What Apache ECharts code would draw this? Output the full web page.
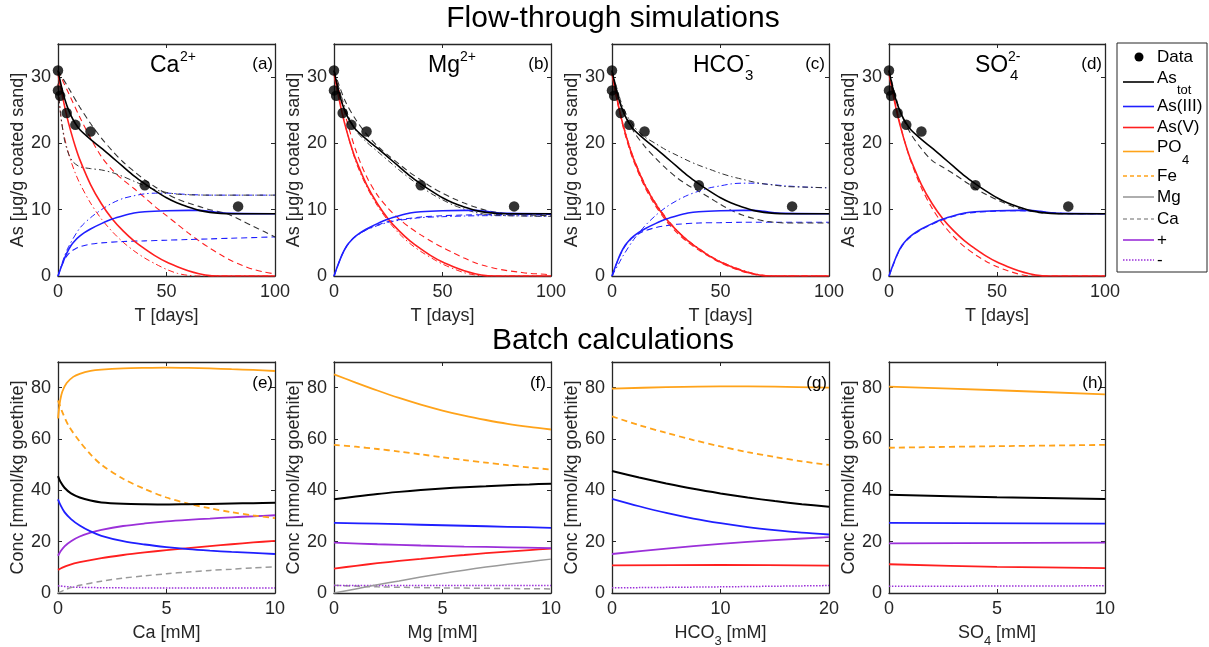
<!DOCTYPE html>
<html><head><meta charset="utf-8">
<script src="https://cdn.jsdelivr.net/npm/echarts@6/dist/echarts.min.js"></script>
<style>html,body{margin:0;padding:0;background:#fff}#c{width:1209px;height:647px}</style>
</head><body><div id="c"></div><script>
// ---------- DATA ----------
// Flow-through: measured As
const T_DATA = [[0,31],[0,28],[1,27.2],[4,24.6],[8,22.8],[15,21.8],[40,13.7],[83,10.5]];
// base simulation (solid lines, same in all four panels)
const T_ASTOT = [[0,31],[2,28],[4,25.8],[6,24.2],[8,23],[10,22.1],[15,20.6],[20,19.3],[25,17.9],[30,16.5],[35,15.1],[40,13.9],[45,12.8],[50,11.8],[55,11],[60,10.4],[65,9.9],[70,9.6],[75,9.45],[80,9.4],[100,9.4]];
const T_AS3 = [[0,0],[2,1.8],[4,3.4],[6,4.6],[8,5.4],[10,6],[12,6.5],[15,7.1],[20,7.9],[25,8.6],[30,9.1],[35,9.5],[40,9.7],[50,9.85],[60,9.9],[65,9.9],[70,9.75],[75,9.55],[80,9.45],[100,9.4]];
const T_AS5 = [[0,30.5],[2,27.2],[4,24.2],[6,21.7],[8,19.5],[10,17.6],[15,13.8],[20,10.9],[25,8.6],[30,6.8],[35,5.3],[40,4.1],[45,3],[50,2.1],[55,1.4],[60,0.8],[65,0.35],[70,0.05],[75,0],[100,0]];
// (a) Ca2+ variants
const A_TOT_DASH = [[0,31],[5,28.3],[10,25.5],[15,23],[20,20.8],[25,18.9],[30,17.2],[35,15.8],[40,14.5],[45,13.4],[50,12.4],[55,11.6],[60,11],[65,10.5],[70,10],[77,9.5],[80,9.1],[85,8.3],[90,7.5],[95,6.7],[100,5.9]];
const A_TOT_DDOT = [[0,29],[1,25],[2,22.5],[3,20.5],[5,18.3],[7,17.2],[10,16.5],[15,16.2],[20,16],[25,15.6],[30,15],[35,14.3],[40,13.6],[45,13],[50,12.6],[55,12.35],[60,12.25],[70,12.2],[100,12.2]];
const A_AS3_DASH = [[0,0],[2,1.8],[4,3],[6,3.7],[8,4.1],[10,4.4],[15,4.8],[20,5],[30,5.2],[40,5.3],[50,5.4],[60,5.5],[70,5.6],[80,5.7],[100,5.9]];
const A_AS3_DDOT = [[0,0],[3,3],[5,4.5],[10,7.2],[15,8.8],[20,10],[25,11],[30,11.7],[35,12.1],[40,12.4],[45,12.5],[50,12.5],[55,12.4],[60,12.3],[70,12.2],[100,12.2]];
const A_AS5_DASH = [[0,31],[5,27.5],[10,24],[15,20.8],[20,18],[25,16],[30,14.5],[35,13.2],[40,11.8],[45,10.4],[50,9.1],[55,7.8],[60,6.5],[65,5.3],[70,4.2],[75,3.2],[80,2.3],[85,1.6],[90,1],[95,0.6],[100,0.3]];
const A_AS5_DDOT = [[0,29],[1,25],[2,22.5],[4,19.5],[6,17.3],[8,15.5],[10,14],[15,11],[20,8.6],[25,6.7],[30,5.1],[35,3.8],[40,2.7],[45,1.8],[50,1],[55,0.4],[60,0.1],[65,0],[100,0]];
// (b) Mg2+ variants
const B_TOT_DASH = [[0,31],[5,26.5],[10,23.6],[15,21.4],[20,19.6],[25,18.2],[30,16.9],[35,15.6],[40,14.5],[45,13.4],[50,12.5],[55,11.7],[60,11],[65,10.4],[70,9.9],[75,9.6],[80,9.4],[85,9.3],[90,9.2],[100,9.1]];
const B_TOT_DDOT = [[0,31],[5,25.5],[10,22],[15,20.2],[20,18.8],[25,17.4],[30,16],[35,14.7],[40,13.5],[45,12.4],[50,11.5],[55,10.7],[60,10.1],[65,9.6],[70,9.3],[80,9.1],[100,9]];
const B_AS3_DASH = [[0,0],[2,1.8],[4,3.4],[6,4.6],[8,5.4],[10,6],[15,7],[20,7.7],[25,8.2],[30,8.5],[40,8.9],[50,9.1],[60,9.2],[70,9.25],[80,9.3],[100,9.3]];
const B_AS3_DDOT = [[0,0],[2,1.8],[4,3.4],[6,4.6],[8,5.4],[10,6],[15,6.95],[20,7.6],[25,8.1],[30,8.4],[40,8.8],[50,8.95],[60,9.05],[70,9.1],[80,9.1],[100,9]];
const B_AS5_DASH = [[0,31],[5,24.5],[10,19],[15,15],[20,12.2],[25,10.2],[30,8.6],[35,7.3],[40,6.2],[45,5.2],[50,4.3],[55,3.5],[60,2.7],[65,2],[70,1.5],[75,1.1],[80,0.8],[85,0.6],[90,0.4],[95,0.3],[100,0.2]];
const B_AS5_DDOT = [[0,30.5],[5,23],[10,17.3],[15,13.5],[20,10.6],[25,8.3],[30,6.4],[35,4.9],[40,3.7],[45,2.7],[50,1.8],[55,1.1],[60,0.5],[65,0.15],[70,0],[100,0]];
// (c) HCO3- variants
const C_TOT_DASH = [[0,31],[5,25],[10,21.8],[15,19.6],[20,17.8],[25,16.2],[30,14.8],[35,13.7],[40,12.8],[45,11.8],[50,10.8],[55,9.9],[60,9.2],[65,8.7],[70,8.3],[75,8.1],[80,8],[100,8]];
const C_TOT_DDOT = [[0,31],[5,25.5],[10,22.6],[15,21],[20,20],[25,19],[30,18.2],[35,17.4],[40,16.7],[45,16.1],[50,15.5],[55,15],[60,14.6],[65,14.2],[70,13.9],[75,13.7],[80,13.5],[90,13.4],[100,13.3]];
const C_AS3_DASH = [[0,0],[2,1.8],[4,3.3],[6,4.5],[8,5.3],[10,5.9],[15,6.8],[20,7.3],[25,7.6],[30,7.8],[40,8],[50,8.05],[60,8.1],[100,8.1]];
const C_AS3_DDOT = [[0,0],[3,1.8],[5,3],[10,5.5],[15,7.5],[20,9.1],[25,10.4],[30,11.4],[35,12.2],[40,12.8],[45,13.3],[50,13.6],[55,13.9],[60,14],[65,14],[70,13.9],[80,13.6],[90,13.4],[100,13.3]];
const C_AS5_DASH = [[0,30.5],[2,27],[4,24],[6,21.4],[8,19.2],[10,17.3],[15,13.5],[20,10.6],[25,8.3],[30,6.5],[35,5.1],[40,3.9],[45,2.9],[50,2],[55,1.3],[60,0.7],[65,0.3],[70,0],[100,0]];
const C_AS5_DDOT = [[0,30.7],[2,27.4],[4,24.4],[6,21.9],[8,19.7],[10,17.8],[15,14],[20,11.1],[25,8.8],[30,6.9],[35,5.4],[40,4.2],[45,3.1],[50,2.2],[55,1.5],[60,0.9],[65,0.4],[70,0.1],[75,0],[100,0]];
// (d) SO4 2- variants
const D_TOT_DASH = [[0,31],[5,25],[10,21.5],[15,19.2],[20,17.4],[25,16.4],[30,15.4],[35,14.3],[40,13.2],[45,12.3],[50,11.5],[55,10.8],[60,10.2],[65,9.8],[70,9.55],[75,9.45],[80,9.4],[100,9.4]];
const D_AS3_DASH = [[0,0],[2,1.7],[4,3.3],[6,4.5],[8,5.3],[10,5.9],[12,6.4],[15,7],[20,7.8],[25,8.5],[30,9],[35,9.4],[40,9.6],[50,9.8],[60,9.85],[70,9.7],[80,9.45],[100,9.4]];
const D_AS5_DASH = [[0,31],[2,27.5],[4,24.5],[6,21.8],[8,19.5],[10,17.4],[15,13.3],[20,10.2],[25,7.8],[30,5.9],[35,4.4],[40,3.2],[45,2.2],[50,1.4],[55,0.8],[60,0.3],[65,0],[100,0]];

// Batch calculations
// (e) Ca
const E_PO4 = [[0,68],[0.05,72],[0.1,75],[0.2,78.5],[0.4,81.8],[0.7,84.2],[1,85.4],[1.5,86.5],[2,87],[3,87.5],[4,87.7],[5,87.8],[6,87.7],[7,87.5],[8,87.2],[9,86.9],[10,86.5]];
const E_FE = [[0,75],[0.2,70.5],[0.5,65],[1,59],[1.5,54],[2,50],[3,44.5],[4,40.5],[5,37.2],[6,34.8],[7,33],[8,31.5],[9,30.2],[10,29.2]];
const E_TOT = [[0,45.5],[0.1,43.5],[0.3,41],[0.6,38.8],[1,37.2],[1.5,36],[2,35.3],[3,34.8],[4,34.6],[5,34.5],[6,34.6],[7,34.7],[8,34.9],[9,35],[10,35.2]];
const E_AS3 = [[0,36.5],[0.1,34.5],[0.3,31.5],[0.6,28.8],[1,26.3],[1.5,24],[2,22.3],[3,20.2],[4,18.9],[5,17.9],[6,17.1],[7,16.5],[8,16],[9,15.6],[10,15.2]];
const E_AS5 = [[0,9],[0.2,9.9],[0.5,10.9],[1,12],[2,13.6],[3,14.8],[4,15.8],[5,16.7],[6,17.5],[7,18.3],[8,19],[9,19.7],[10,20.3]];
const E_PLUS = [[0,14.5],[0.1,16],[0.3,18.2],[0.6,20.2],[1,22],[1.5,23.5],[2,24.6],[3,26.1],[4,27.1],[5,27.9],[6,28.5],[7,29],[8,29.5],[9,29.9],[10,30.3]];
const E_CA = [[0,0],[0.3,1.2],[0.6,2.1],[1,3],[2,4.6],[3,5.8],[4,6.7],[5,7.5],[6,8.2],[7,8.8],[8,9.3],[9,9.8],[10,10.2]];
const E_MINUS = [[0,2.8],[0.5,2.4],[1,2.2],[3,2],[10,1.9]];
// (f) Mg
const F_PO4 = [[0,85.2],[1,82],[2,78.9],[3,76],[4,73.4],[5,71.1],[6,69.1],[7,67.4],[8,65.9],[9,64.7],[10,63.7]];
const F_FE = [[0,57.7],[1,57],[2,56.1],[3,55.1],[4,54],[5,52.9],[6,51.8],[7,50.8],[8,49.8],[9,48.9],[10,48.1]];
const F_TOT = [[0,36.5],[1,37.6],[2,38.6],[3,39.4],[4,40.1],[5,40.7],[6,41.2],[7,41.6],[8,42],[9,42.3],[10,42.6]];
const F_AS3 = [[0,27.3],[2,27],[4,26.6],[6,26.2],[8,25.8],[10,25.4]];
const F_AS5 = [[0,9.5],[1,10.6],[2,11.6],[3,12.5],[4,13.3],[5,14.1],[6,14.8],[7,15.5],[8,16.1],[9,16.7],[10,17.3]];
const F_PLUS = [[0,19.6],[2,19],[4,18.5],[6,18.1],[8,17.8],[10,17.5]];
const F_MG = [[0,0],[1,1.6],[2,3.2],[3,4.7],[4,6.2],[5,7.6],[6,8.9],[7,10.1],[8,11.2],[9,12.2],[10,13.2]];
const F_CA = [[0,3],[2,2.4],[5,2],[10,1.6]];
const F_MINUS = [[0,2.9],[10,2.9]];
// (g) HCO3
const G_PO4 = [[0,79.6],[5,80.2],[10,80.5],[15,80.4],[20,80]];
const G_FE = [[0,68.8],[2.5,65.4],[5,62.4],[7.5,59.6],[10,57.1],[12.5,54.9],[15,53],[17.5,51.3],[20,49.9]];
const G_TOT = [[0,47.5],[2.5,45],[5,42.7],[7.5,40.6],[10,38.8],[12.5,37.2],[15,35.8],[17.5,34.6],[20,33.6]];
const G_AS3 = [[0,36.7],[2.5,33.8],[5,31.2],[7.5,29],[10,27.2],[12.5,25.7],[15,24.5],[17.5,23.5],[20,22.8]];
const G_AS5 = [[0,10.8],[10,10.9],[20,10.7]];
const G_PLUS = [[0,15.2],[5,17.3],[10,19.1],[15,20.6],[20,21.8]];
const G_MINUS = [[0,2],[10,2.4],[20,2.9]];
// (h) SO4
const H_PO4 = [[0,80.4],[5,79],[10,77.4]];
const H_FE = [[0,56.6],[5,57.2],[10,57.7]];
const H_TOT = [[0,38.3],[5,37.3],[10,36.6]];
const H_AS3 = [[0,27.3],[10,27]];
const H_AS5 = [[0,11.2],[5,10.2],[10,9.7]];
const H_PLUS = [[0,19.3],[10,19.6]];
const H_MINUS = [[0,2.6],[10,2.8]];

// axis ranges / ticks
const TOP_X = {min:0, max:100, interval:50};
const TOP_Y = {min:0, max:35, interval:10};
const BOT_X = [{min:0,max:10,interval:5},{min:0,max:10,interval:5},{min:0,max:20,interval:10},{min:0,max:10,interval:5}];
const BOT_Y = {min:0, max:90, interval:20};
const BOT_XNAMES = ['Ca [mM]','Mg [mM]','HCO{s|3} [mM]','SO{s|4} [mM]'];

// ---------- STYLE ----------
const FONT = "'Liberation Sans', Arial, Helvetica, sans-serif";
const COL = {black:'#000000', blue:'#1f1fff', red:'#ff1f1f', orange:'#ffa31a', gray:'#9a9a9a', purple:'#9b30d9', ax:'#262626'};
const DASH = [6,4], DDOT = [6,3,1.5,3], DOT = [1.5,1.5];

const lefts = [58,334,612,889];
const widths = [217,217,217,216];
const grids = [];
lefts.forEach((l,i)=>grids.push({left:l, top:44, width:widths[i], height:232, containLabel:false, outerBoundsMode:'none'}));
lefts.forEach((l,i)=>grids.push({left:l, top:362, width:widths[i], height:231, containLabel:false, outerBoundsMode:'none'}));

const xAxis = [], yAxis = [];
const axLine = {show:true, onZero:false, lineStyle:{color:COL.ax, width:1.3}};
const axTick = {show:true, inside:true, length:4, lineStyle:{color:COL.ax, width:1}};
const lblStyle = {fontSize:18, color:COL.ax, fontFamily:FONT};
grids.forEach((g,i)=>{
  const top = i<4;
  const xr = top ? TOP_X : BOT_X[i-4];
  const yr = top ? TOP_Y : BOT_Y;
  const xname = top ? 'T [days]' : BOT_XNAMES[i-4];
  const hasSub = xname.indexOf('{s|') >= 0;
  const yname = top ? 'As [\u03bcg/g coated sand]' : 'Conc [mmol/kg goethite]';
  xAxis.push({gridIndex:i, type:'value', min:xr.min, max:xr.max, interval:xr.interval, position:'bottom',
    axisLine:axLine, axisTick:axTick, splitLine:{show:false},
    axisLabel:Object.assign({margin:7}, lblStyle),
    name:xname, nameLocation:'middle', nameGap: hasSub ? 25 : 31,
    nameTextStyle:{fontSize:18, color:COL.ax, fontFamily:FONT,
      rich:{s:{fontSize:13, color:COL.ax, fontFamily:FONT, verticalAlign:'bottom', lineHeight:30}}}});
  xAxis.push({gridIndex:i, type:'value', min:xr.min, max:xr.max, interval:xr.interval, position:'top',
    axisLine:axLine, axisTick:axTick, splitLine:{show:false}, axisLabel:{show:false}});
  yAxis.push({gridIndex:i, type:'value', min:yr.min, max:yr.max, interval:yr.interval, position:'left',
    axisLine:axLine, axisTick:axTick, splitLine:{show:false},
    axisLabel:Object.assign({margin:7, showMaxLabel:false}, lblStyle),
    name:yname, nameLocation:'middle', nameGap:31, nameTextStyle:{fontSize:18, color:COL.ax, fontFamily:FONT}});
  yAxis.push({gridIndex:i, type:'value', min:yr.min, max:yr.max, interval:yr.interval, position:'right',
    axisLine:axLine, axisTick:axTick, splitLine:{show:false}, axisLabel:{show:false}});
});

const series = [];
function ln(g, data, color, type, width){
  series.push({type:'line', xAxisIndex:2*g, yAxisIndex:2*g, data:data, symbol:'none', showSymbol:false,
    smooth:0.3, clip:true, silent:true, lineStyle:{color:color, type:type||'solid', width:width||1.6}});
}
function dots(g){
  series.push({type:'scatter', xAxisIndex:2*g, yAxisIndex:2*g, data:T_DATA, symbol:'circle', symbolSize:10.5,
    itemStyle:{color:'#000'}, silent:true, z:5});
}
// (a)
ln(0,A_AS5_DDOT,COL.red,DDOT,1); ln(0,A_AS5_DASH,COL.red,DASH,1.1);
ln(0,A_AS3_DASH,COL.blue,DASH,1.1); ln(0,A_AS3_DDOT,COL.blue,DDOT,1);
ln(0,A_TOT_DDOT,'#333',DDOT,1); ln(0,A_TOT_DASH,'#333',DASH,1.1);
ln(0,T_AS5,COL.red); ln(0,T_AS3,COL.blue); ln(0,T_ASTOT,COL.black); dots(0);
// (b)
ln(1,B_AS5_DDOT,COL.red,DDOT,1); ln(1,B_AS5_DASH,COL.red,DASH,1.1);
ln(1,B_AS3_DASH,COL.blue,DASH,1.1); ln(1,B_AS3_DDOT,COL.blue,DDOT,1);
ln(1,B_TOT_DDOT,'#333',DDOT,1); ln(1,B_TOT_DASH,'#333',DASH,1.1);
ln(1,T_AS5,COL.red); ln(1,T_AS3,COL.blue); ln(1,T_ASTOT,COL.black); dots(1);
// (c)
ln(2,C_AS5_DDOT,COL.red,DDOT,1); ln(2,C_AS5_DASH,COL.red,DASH,1.1);
ln(2,C_AS3_DASH,COL.blue,DASH,1.1); ln(2,C_AS3_DDOT,COL.blue,DDOT,1);
ln(2,C_TOT_DDOT,'#333',DDOT,1); ln(2,C_TOT_DASH,'#333',DASH,1.1);
ln(2,T_AS5,COL.red); ln(2,T_AS3,COL.blue); ln(2,T_ASTOT,COL.black); dots(2);
// (d)
ln(3,D_AS5_DASH,COL.red,DASH,1.1); ln(3,D_AS3_DASH,COL.blue,DASH,1.1); ln(3,D_TOT_DASH,'#333',DASH,1.1);
ln(3,T_AS5,COL.red); ln(3,T_AS3,COL.blue); ln(3,T_ASTOT,COL.black); dots(3);
// (e)
ln(4,E_MINUS,COL.purple,DOT,1.5); ln(4,E_CA,COL.gray,DASH,1.5); ln(4,E_AS5,COL.red,'solid',1.8);
ln(4,E_PLUS,COL.purple,'solid',1.8); ln(4,E_AS3,COL.blue,'solid',1.8); ln(4,E_FE,COL.orange,DASH,1.8);
ln(4,E_TOT,COL.black,'solid',2); ln(4,E_PO4,COL.orange,'solid',1.8);
// (f)
ln(5,F_CA,COL.gray,DASH,1.5); ln(5,F_MINUS,COL.purple,DOT,1.5); ln(5,F_MG,COL.gray,'solid',1.5);
ln(5,F_AS5,COL.red,'solid',1.8); ln(5,F_PLUS,COL.purple,'solid',1.8); ln(5,F_AS3,COL.blue,'solid',1.8);
ln(5,F_TOT,COL.black,'solid',2); ln(5,F_FE,COL.orange,DASH,1.8); ln(5,F_PO4,COL.orange,'solid',1.8);
// (g)
ln(6,G_MINUS,COL.purple,DOT,1.5); ln(6,G_AS5,COL.red,'solid',1.8); ln(6,G_PLUS,COL.purple,'solid',1.8);
ln(6,G_AS3,COL.blue,'solid',1.8); ln(6,G_TOT,COL.black,'solid',2); ln(6,G_FE,COL.orange,DASH,1.8); ln(6,G_PO4,COL.orange,'solid',1.8);
// (h)
ln(7,H_MINUS,COL.purple,DOT,1.5); ln(7,H_AS5,COL.red,'solid',1.8); ln(7,H_PLUS,COL.purple,'solid',1.8);
ln(7,H_AS3,COL.blue,'solid',1.8); ln(7,H_TOT,COL.black,'solid',2); ln(7,H_FE,COL.orange,DASH,1.8); ln(7,H_PO4,COL.orange,'solid',1.8);

// ---------- TEXT / LEGEND (graphic) ----------
const graphic = [];
function txt(x,y,s,size,align,color){
  graphic.push({type:'text', x:x, y:y, silent:true, z:100,
    style:{text:s, fontSize:size, fontFamily:FONT, fill:color||'#000', align:align||'left', verticalAlign:'middle'}});
}
txt(613,19,'Flow-through simulations',30,'center');
txt(613,341,'Batch calculations',30,'center');
// panel titles
txt(150,66,'Ca',23); txt(180,57,'2+',14);
txt(428,66,'Mg',23); txt(460,57,'2+',14);
txt(693,66,'HCO',23); txt(745,56,'-',15); txt(745,76,'3',15);
txt(975,66,'SO',23); txt(1008,57,'2-',14); txt(1010,76,'4',15);
// panel letters
const LETTERS = ['(a)','(b)','(c)','(d)','(e)','(f)','(g)','(h)'];
const letterPos = [[273,64],[549,64],[825,64],[1102,64],[273,383],[546,383],[827,383],[1103,383]];
LETTERS.forEach((s,i)=>txt(letterPos[i][0],letterPos[i][1],s,17,'right'));
// legend
graphic.push({type:'rect', shape:{x:1117, y:43, width:90, height:229}, style:{fill:'#fff', stroke:COL.ax, lineWidth:1}, z:90, silent:true});
graphic.push({type:'circle', shape:{cx:1139, cy:57, r:4.5}, style:{fill:'#000'}, z:100, silent:true});
txt(1157,57,'Data',17);
const LEG = [
  {y:82, color:COL.black, dash:null},
  {y:106.5, color:COL.blue, dash:null},
  {y:127.5, color:COL.red, dash:null},
  {y:151.5, color:COL.orange, dash:null},
  {y:176, color:COL.orange, dash:[4,3]},
  {y:197, color:COL.gray, dash:null},
  {y:219, color:COL.gray, dash:[4,3]},
  {y:240, color:COL.purple, dash:null},
  {y:260, color:COL.purple, dash:[1.5,1.5]}
];
LEG.forEach(l=>graphic.push({type:'line', shape:{x1:1123,y1:l.y,x2:1154,y2:l.y},
  style:{stroke:l.color, lineWidth:1.6, lineDash:l.dash}, z:100, silent:true}));
txt(1157,78,'As',17); txt(1177,90,'tot',13);
txt(1157,106.5,'As(III)',17);
txt(1157,127.5,'As(V)',17);
txt(1157,147.5,'PO',17); txt(1182,160,'4',13);
txt(1157,176.5,'Fe',17);
txt(1157,197.5,'Mg',17);
txt(1157,219.5,'Ca',17);
txt(1157,240,'+',17);
txt(1157,260,'-',17);

const chart = echarts.init(document.getElementById('c'), null, {renderer:'canvas'});
chart.setOption({animation:false, backgroundColor:'#fff', grid:grids, xAxis:xAxis, yAxis:yAxis, series:series, graphic:graphic});
</script></body></html>
